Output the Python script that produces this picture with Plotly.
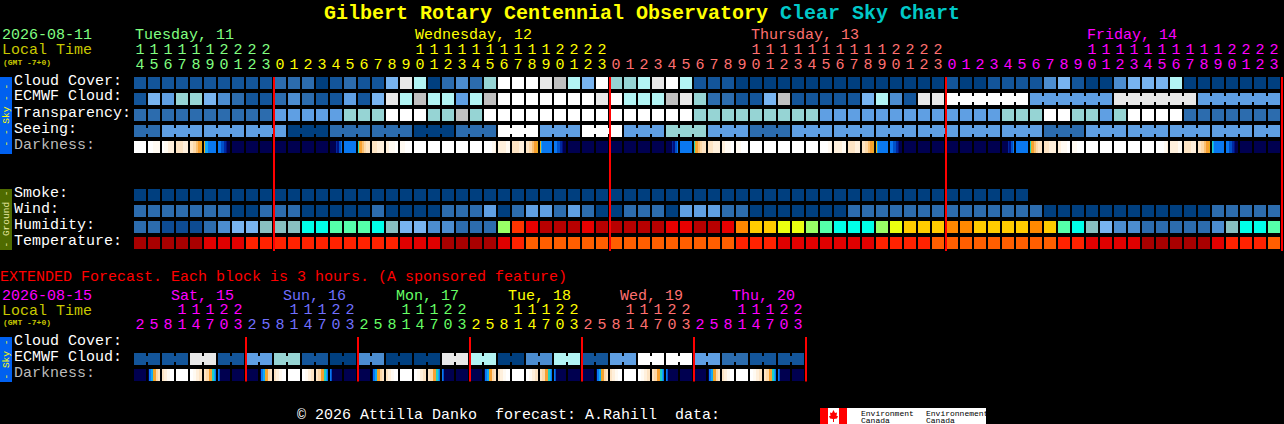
import plotly.graph_objects as go

W, H = 1284, 424
PITCH = 14
X0 = 134
ROW = 16

TITLE_MAIN = "Gilbert Rotary Centennial Observatory"
TITLE_CSC = "Clear Sky Chart"
HOURS = [14,15,16,17,18,19,20,21,22,23] + list(range(24)) * 3
EXT_HOURS = [2,5,8,11,14,17,20,23] * 6
DAYS = ["Tuesday, 11", "Wednesday, 12", "Thursday, 13", "Friday, 14"]
EXT_DAYS = ["Sat, 15", "Sun, 16", "Mon, 17", "Tue, 18", "Wed, 19", "Thu, 20"]
ROW_LABELS = ["Cloud Cover:", "ECMWF Cloud:", "Transparency:", "Seeing:", "Darkness:"]
GROUND_LABELS = ["Smoke:", "Wind:", "Humidity:", "Temperature:"]
EXT_LABELS = ["Cloud Cover:", "ECMWF Cloud:", "Darkness:"]

SKY_COLORS = ["#003f7f","#13559a","#2c6cae","#4c8dd0","#5f9fe3","#78b4f0",
              "#96d4d4","#b2f4f4","#c0c0c0","#e8e8e8","#ffffff"]
HUMID_COLORS = ["#0d4b92","#2c6cae","#4c8dd0","#78b4f0","#88c0c0","#00ffe8","#55ffaa",
                "#99ff66","#eaff10","#ffcc00","#ff8800","#ff3300","#e80000","#b80000"]
TEMP_COLORS = ["#a80000","#e00000","#ff2200","#ff5e00"]
DARK_COLORS = {"W":"#ffffff","w":"#fffaf2","c":"#fff0dc","C":"#fde4c4","d":"#fdd8a8",
               "o":"#fbc070","O":"#f8a030","g":"#e8b020","t":"#20d0c0","L":"#10a8f8",
               "B":"#0a78f0","b":"#0050c8","m":"#0028a0","n":"#001080","N":"#000050"}
DARK_KEYS = list(DARK_COLORS)

CLOUD = [1,1,1,1,1,1,1,1,1,1,2,2,2,0,1,2,1,1,5,9,7,0,2,3,2,6,10,10,10,9,8,7,5,10,6,6,7,9,10,7,
         1,1,1,0,0,0,0,0,0,0,0,0,0,0,0,0,0,0,1,0,0,1,1,1,1,3,5,1,0,0,3,5,5,5,7,0,0,0,0,0,0,0]
ECMWF = [1,5,4,6,6,5,3,2,1,1,2,3,2,1,1,4,1,5,9,7,8,7,7,4,7,8,10,10,10,10,10,10,10,9,10,7,7,7,8,9,
         6,2,2,1,1,5,8,1,1,1,1,1,5,7,3,1,9,9,10,10,10,10,10,10,4,4,4,4,4,4,9,9,9,9,9,9,4,4,4,4,4,4]
TRANSP = [2,2,2,2,2,2,2,2,2,2,4,4,4,4,4,6,6,6,10,10,10,6,6,8,6,10,10,10,10,10,10,10,10,10,10,10,10,10,10,10,
          6,6,6,6,6,6,6,6,6,4,4,4,4,4,4,4,4,4,4,4,4,4,6,6,6,10,10,6,6,4,6,10,10,10,10,2,2,2,2,2,2,2]
SEEING_BLOCKS = [2,4,4,4,0,2,2,0,2,10,4,10,4,6,4,2,4,4,4,4,4,4,2,4,4,4,4,4]
SEEING_SIZES = [2] + [3]*26 + [2]
SMOKE = [0]*64 + [None]*18
WIND = [2,2,2,2,2,2,2,0,0,2,2,2,0,0,0,0,0,2,0,0,0,0,2,2,2,4,0,2,4,4,2,4,2,0,0,2,2,2,0,4,
        4,4,2,2,0,0,0,0,0,0,0,2,2,2,2,2,2,2,2,2,2,2,2,2,2,0,0,0,0,0,0,0,0,0,0,0,0,2,2,2,2,2]
HUMID = [1,1,0,0,0,1,2,3,3,4,4,4,5,5,6,6,6,5,4,3,3,2,2,1,1,1,7,11,12,13,13,13,12,13,13,13,13,13,12,12,
         13,13,12,10,9,9,8,8,7,6,5,5,5,7,8,9,9,9,10,10,9,9,9,9,10,9,6,5,4,3,2,2,1,1,1,1,1,2,4,5,5,6]
TEMP = [0,0,0,0,0,1,1,1,2,2,2,2,2,2,2,2,2,2,2,1,1,1,0,0,0,0,1,2,3,3,3,3,3,3,3,3,3,3,3,3,
        3,3,3,2,2,2,1,1,1,1,1,1,1,2,2,2,2,3,3,3,3,3,3,3,3,3,2,2,1,1,1,1,0,0,0,0,0,1,2,2,2,3]
EXT_ECMWF = [1,1,9,1,4,6,1,0,3,0,0,9,7,0,3,7,1,4,10,10,4,2,1,1]

W12 = "WWWWWWWWWWWW"; N12 = "NNNNNNNNNNNN"
DARKNESS = [W12,"WWWWWwwwwwww","WWwwwwcccccc","CCCCCCCccccc","CCCdddooOOOg","gLLLBBBBBBBB","BBBbbbmmnNNN",
            N12,N12,N12,N12,N12,N12,N12,"NNNNNNmnnbbB","BBBBBBBBBBBB","tgOOooddCCCC","CCCCCccccccc","cccwwwwwwWWW","wwwwwWWWWWWW",
            W12,W12,W12,W12,W12,"WWWWWWWWwwwc","ccccccccwwww","CCCCCCCccccc","CCCdddooOOOg","gLBBBBBBBBBB","BBBbbbmmnNNN",
            N12,N12,N12,N12,N12,N12,N12,"NNNNNNmnnbbB","BBBBBBBBBBBB","tgOOooddCCCC","CCCCCccccccc","cccwwwwwwWWW","wwwwwWWWWWWW",
            W12,W12,W12,W12,W12,"WWWWWWWWwwwc","ccccccccwwww","CCCCCCCccccc","CCCdddooOOOg","gLBBBBBBBBBB","BBBbbbmmnNNN",
            N12,N12,N12,N12,N12,N12,N12,"NNNNNNmnnbbB","BBBBBBBBBBBB","tgOOooddCCCC","CCCCCccccccc","cccwwwwwwWWW","wwwwwWWWWWWW",
            W12,W12,W12,W12,W12,"WWWWWWWWwwwc","ccccccccwwww","CCCCCCCccccc","CCCdddooOOOg","tLBBBBBBBBBB","BBBbbbmmnNNN",
            N12,N12,N12]
DAY_EXT = [N12,"NBBLLgOOddCC","CCcccwwwWWWW",W12,"WWWwwwcccCCC","CCdddOOOttLB","BbNNNNNNNNNN",N12]
EXT_DARK = DAY_EXT * 6

DAY_COLORS = ["#80ff80","#ffff00","#ff7070","#ff00ff"]
EXT_DAY_COLORS = ["#ff00ff","#7070ff","#66ff66","#ffff00","#ff7070","#ff00ff"]
DAY_STARTS = [0, 10, 34, 58]
DAY_LABEL_COLS = [0, 20, 44, 68]
RED_MAIN = [10, 34, 58, 82]
RED_EXT = [8, 16, 24, 32, 40, 48]

def steps(colors):
    n = len(colors)
    out = []
    for i, c in enumerate(colors):
        out += [[i / n, c], [(i + 1) / n, c]]
    return out

def px(x): return x / W
def py(y): return 1 - y / H

fig = go.Figure()
CELL_C = 6 / PITCH  # centre of a block inside its column

def grid(rows, y_vals, colors, yaxis="y"):
    fig.add_trace(go.Heatmap(z=rows, x=[c + CELL_C for c in range(len(rows[0]))], y=y_vals,
                             colorscale=steps(colors), zmin=-0.5, zmax=len(colors) - 0.5,
                             xgap=2, ygap=4, showscale=False, hoverinfo="skip", yaxis=yaxis))

def dark(cells, y_val, yaxis="y"):
    z, xs = [], []
    for c, s in enumerate(cells):
        for i in range(PITCH):
            xs.append(c + (i + 0.5) / PITCH)
            z.append(DARK_KEYS.index(s[i]) if i < 12 else None)
    fig.add_trace(go.Heatmap(z=[z], x=xs, y=[y_val], colorscale=steps(list(DARK_COLORS.values())),
                             zmin=-0.5, zmax=len(DARK_KEYS) - 0.5, ygap=4, showscale=False,
                             hoverinfo="skip", yaxis=yaxis))

def links(values, chains, y_val, yaxis="y"):
    c = 0
    for size in chains:
        for k in range(size - 1):
            col = SKY_COLORS[values[c + k]]
            fig.add_trace(go.Scatter(x=[c + k + 12 / PITCH, c + k + 1], y=[y_val, y_val], mode="lines",
                                     line=dict(color=col, width=6), hoverinfo="skip", yaxis=yaxis))
        c += size

SEEING = []
for v, n in zip(SEEING_BLOCKS, SEEING_SIZES):
    SEEING += [v] * n

grid([CLOUD, ECMWF, TRANSP, SEEING], [0, 1, 2, 3], SKY_COLORS)
dark(DARKNESS, 4)
grid([SMOKE, WIND], [7, 8], SKY_COLORS)
grid([HUMID], [9], HUMID_COLORS)
grid([TEMP], [10], TEMP_COLORS)
links(SEEING, SEEING_SIZES, 3)
links(ECMWF, [1] * 58 + [6, 6, 6, 6], 1)

ext_cloud = []
for v in EXT_ECMWF:
    ext_cloud += [v, v]
grid([ext_cloud], [1], SKY_COLORS, "y2")
links(ext_cloud, [2] * 24, 1, "y2")
dark(EXT_DARK, 2, "y2")

# hour labels
def col_color(c):
    i = sum(1 for s in DAY_STARTS if c >= s) - 1
    return DAY_COLORS[i]
def hour_text(hours, colors, y_tens, y_ones, yaxis):
    xs = [c + CELL_C for c in range(len(hours))]
    fig.add_trace(go.Scatter(x=xs, y=[y_tens] * len(xs), mode="text",
                             text=[str(h // 10) if h >= 10 else "" for h in hours],
                             textfont=dict(family="Liberation Mono", size=15, color=colors),
                             hoverinfo="skip", yaxis=yaxis))
    fig.add_trace(go.Scatter(x=xs, y=[y_ones] * len(xs), mode="text",
                             text=[str(h % 10) for h in hours],
                             textfont=dict(family="Liberation Mono", size=15, color=colors),
                             hoverinfo="skip", yaxis=yaxis))
hour_text(HOURS, [col_color(c) for c in range(len(HOURS))], -32.5 / ROW, -18 / ROW, "y")
hour_text(EXT_HOURS, [EXT_DAY_COLORS[c // 8] for c in range(len(EXT_HOURS))], -32.5 / ROW, -18 / ROW, "y2")

# red day separators
for cols, y0, y1, yaxis in [(RED_MAIN, -0.375, 10.5, "y"), (RED_EXT, -0.375, 2.4, "y2")]:
    xs, ys = [], []
    for c in cols:
        xs += [c, c, None]
        ys += [y0, y1, None]
    fig.add_trace(go.Scatter(x=xs, y=ys, mode="lines", line=dict(color="#ff0000", width=2),
                             hoverinfo="skip", yaxis=yaxis))

def txt(x, y, s, color="#ffffff", size=15, bold=False, angle=0, anchor="left", family="Liberation Mono"):
    s = s.replace(" ", "\u00a0")
    if bold:
        s = "<b>" + s + "</b>"
    fig.add_annotation(x=px(x), y=py(y), xref="paper", yref="paper", text=s, showarrow=False,
                       xanchor=anchor, yanchor="middle", textangle=angle, borderpad=0, borderwidth=0,
                       font=dict(family=family, size=size, color=color))

txt(324, 13, TITLE_MAIN, "#ffff00", 20, True)
txt(780, 13, TITLE_CSC, "#00c8c8", 20, True)
txt(2, 36, "2026-08-11", "#80ff80")
txt(2, 51, "Local Time", "#c8c800")
txt(3, 62, "(GMT -7+0)", "#c8c800", 8, True)
for name, col, clr in zip(DAYS, DAY_LABEL_COLS, DAY_COLORS):
    txt(X0 + PITCH * col + 1, 36, name, clr)
for i, name in enumerate(ROW_LABELS):
    txt(14, 81 + ROW * i, name, "#bbbbbb" if name == "Darkness:" else "#ffffff")
for i, name in enumerate(GROUND_LABELS):
    txt(14, 193.5 + ROW * i, name)

txt(0, 277, "EXTENDED Forecast. Each block is 3 hours. (A sponsored feature)", "#ff0000")
txt(2, 296, "2026-08-15", "#ff00ff")
txt(2, 311, "Local Time", "#c8c800")
txt(3, 322, "(GMT -7+0)", "#c8c800", 8, True)
for i, (name, clr) in enumerate(zip(EXT_DAYS, EXT_DAY_COLORS)):
    txt(171 + 112 * i + (1 if i > 1 else 0), 296, name, clr)
for i, name in enumerate(EXT_LABELS):
    txt(14, 341 + ROW * i, name, "#bbbbbb" if name == "Darkness:" else "#ffffff")
txt(297, 415.5, "\u00a9 2026 Attilla Danko  forecast: A.Rahill  data:")

# side bands
shapes = []
def rect(x0, y0, x1, y1, color):
    shapes.append(dict(type="rect", xref="paper", yref="paper", x0=px(x0), x1=px(x1), y0=py(y0), y1=py(y1),
                       fillcolor=color, line_width=0, layer="below"))
rect(0, 77, 12, 154, "#0060f0")
rect(0, 189, 12, 250, "#4f6b00")
rect(0, 337, 12, 382, "#0060f0")
rect(820, 408, 986, 424, "#ffffff")
rect(820, 408, 828, 424, "#ff0000")
rect(839, 408, 847, 424, "#ff0000")
txt(6, 115.5, "- - Sky - -", "#ffff00", 9.5, angle=-90, anchor="center")
txt(6, 219.5, "- Ground -", "#e8e8a0", 9.5, angle=-90, anchor="center")
txt(6, 359.5, "- Sky -", "#ffff00", 9.5, angle=-90, anchor="center")

# maple leaf in the flag, and the department wordmarks
leaf = [(833.5,410),(835,413),(837,412.5),(836.5,416),(838,416),(837,418.5),(834,419),(834,422),(833,422),
        (833,419),(830,418.5),(829,416),(830.5,416),(830,412.5),(832,413)]
shapes.append(dict(type="path", xref="paper", yref="paper", layer="above", fillcolor="#ff0000", line_width=0,
                   path="M " + " L ".join(f"{px(a):.5f},{py(b):.5f}" for a, b in leaf) + " Z"))
txt(861, 413, "Environment", "#000000", 8)
txt(861, 420, "Canada", "#000000", 8)
txt(926, 413, "Environnement", "#000000", 8)
txt(926, 420, "Canada", "#000000", 8)

fig.update_layout(
    width=W, height=H, margin=dict(l=0, r=0, t=0, b=0), paper_bgcolor="#000000", plot_bgcolor="#000000",
    showlegend=False, shapes=shapes,
    xaxis=dict(range=[-X0 / PITCH, (W - X0) / PITCH], visible=False, domain=[0, 1], fixedrange=True),
    yaxis=dict(range=[(H - 83) / ROW, -83 / ROW], visible=False, domain=[0, 1], fixedrange=True),
    yaxis2=dict(range=[(H - 343) / ROW, -343 / ROW], visible=False, domain=[0, 1], overlaying="y", fixedrange=True),
)
fig.write_html("out.html", config={"displayModeBar": False},
               post_script="document.body.style.margin='0';document.body.style.background='#000';document.body.style.overflow='hidden';")
